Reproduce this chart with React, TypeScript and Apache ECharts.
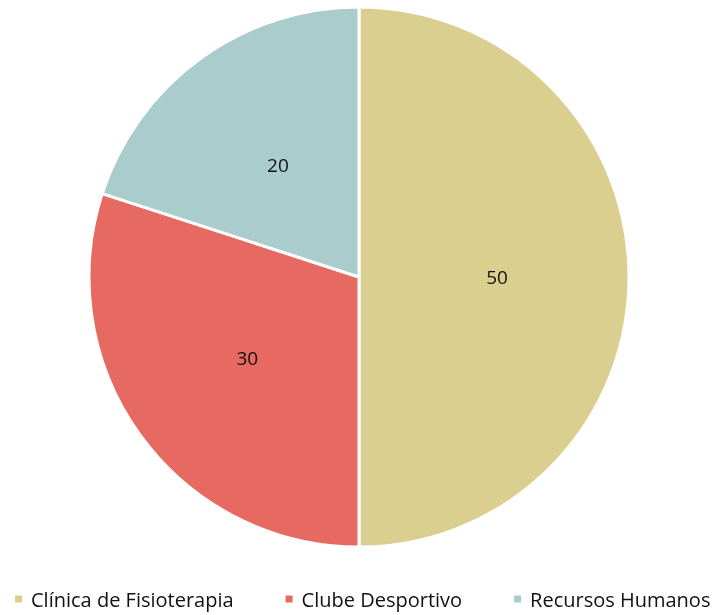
import React, { useEffect, useRef } from "react";
import * as echarts from "echarts";

const categories = ["Clínica de Fisioterapia", "Clube Desportivo", "Recursos Humanos"];
const values = [50, 30, 20];
const colors = ["#DBCF90", "#E66A62", "#AACCCC"];

export default function App() {
  const ref = useRef<HTMLDivElement>(null);
  useEffect(() => {
    const chart = echarts.init(ref.current!, null, { renderer: "svg" });
    chart.setOption({
      animation: false,
      color: colors,
      legend: {
        top: 589,
        left: 13,
        width: 707,
        padding: 0,
        itemWidth: 9,
        itemHeight: 9,
        itemGap: 50,
        icon: "rect",
        textStyle: { fontFamily: "Open Sans", fontSize: 20, color: "#111", padding: [0, 0, 0, 3] },
        data: categories,
      },
      series: [
        {
          type: "pie",
          center: [359, 277],
          radius: [0, 270],
          startAngle: 90,
          clockwise: true,
          itemStyle: { borderColor: "#fff", borderWidth: 3 },
          label: {
            position: "inside",
            formatter: "{c}",
            fontFamily: "Open Sans",
            fontSize: 19,
            color: "#111",
          },
          labelLine: { show: false },
          data: categories.map((n, i) => ({ name: n, value: values[i] })),
        },
      ],
    });
    return () => chart.dispose();
  }, []);
  return <div ref={ref} style={{ position: "fixed", left: 0, top: 0, width: 720, height: 615 }} />;
}
